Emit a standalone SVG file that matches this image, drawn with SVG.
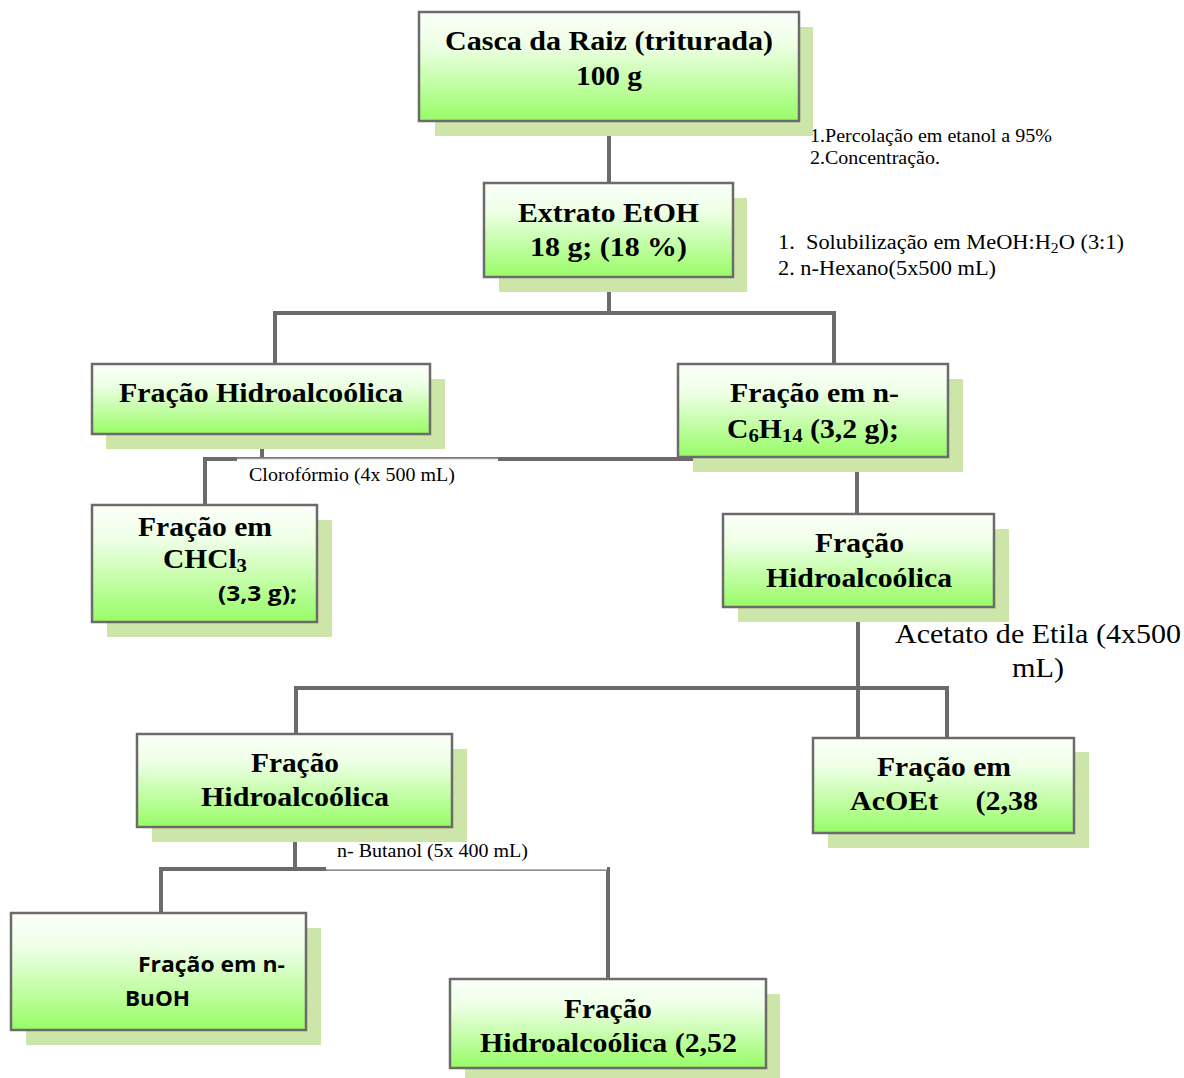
<svg xmlns="http://www.w3.org/2000/svg" width="1184" height="1078" viewBox="0 0 1184 1078">
<defs>
<linearGradient id="g" x1="0" y1="0" x2="0" y2="1">
<stop offset="0" stop-color="#fbfffa"/>
<stop offset="0.3" stop-color="#eeffe6"/>
<stop offset="1" stop-color="#98fc66"/>
</linearGradient>
<style>
.box{fill:url(#g);stroke:#6b6b6b;stroke-width:2.5}
.sh{fill:#cde5a9}
.t{font-family:"Liberation Serif",serif;font-weight:bold;font-size:27px;fill:#000}
.s{font-family:"Open Sans","Liberation Sans",sans-serif;font-weight:bold;font-size:22px;fill:#000}
.a{font-family:"Liberation Serif",serif;fill:#000}
.c{stroke:#6b6b6b;stroke-width:4;fill:none}
.thin{stroke:#9a9a9a;stroke-width:1.5;fill:none}
</style>
</defs>
<rect width="1184" height="1078" fill="#fff"/>
<g id="connectors">
<path class="c" d="M609 121V183"/>
<path class="c" d="M609 277V313M275 364V313H834V364"/>
<path class="c" d="M262 434V459M205 505V459H857V514"/>
<path class="c" d="M858 607V738M296 734V688H947V738"/>
<path class="c" d="M295 827V869M161 913V869H608V979"/>
</g>
<g id="label-cloroformio">
<rect x="237" y="458" width="261" height="47" fill="#fff"/>
<path class="thin" d="M237 458.5H498"/>
<text class="a" x="249" y="481" font-size="18" textLength="206" lengthAdjust="spacingAndGlyphs">Clorofórmio (4x 500 mL)</text>
</g>
<g id="label-butanol">
<rect x="326" y="835" width="281" height="35" fill="#fff"/>
<path class="thin" d="M326 870H607"/>
<text class="a" x="337" y="857" font-size="18" textLength="191" lengthAdjust="spacingAndGlyphs">n- Butanol (5x 400 mL)</text>
</g>
<g id="label-percolacao">
<text class="a" x="810" y="142" font-size="18" textLength="242" lengthAdjust="spacingAndGlyphs">1.Percolação em etanol a 95%</text>
<text class="a" x="810" y="164" font-size="18" textLength="130" lengthAdjust="spacingAndGlyphs">2.Concentração.</text>
</g>
<g id="label-solubilizacao">
<text class="a" x="778" y="249" font-size="20" xml:space="preserve" textLength="346" lengthAdjust="spacingAndGlyphs">1.  Solubilização em MeOH:H<tspan font-size="14" dy="4">2</tspan><tspan dy="-4">O (3:1)</tspan></text>
<text class="a" x="778" y="275" font-size="20" textLength="218" lengthAdjust="spacingAndGlyphs">2. n-Hexano(5x500 mL)</text>
</g>
<g id="label-acetato">
<text class="a" x="895" y="643" font-size="27" textLength="286" lengthAdjust="spacingAndGlyphs">Acetato de Etila (4x500</text>
<text class="a" x="1012" y="677" font-size="27" textLength="52" lengthAdjust="spacingAndGlyphs">mL)</text>
</g>
<g id="n-casca">
<rect class="sh" x="435" y="27" width="378" height="109"/>
<rect class="box" x="419" y="12" width="380" height="109"/>
<text class="t" x="445" y="50" textLength="328" lengthAdjust="spacingAndGlyphs">Casca da Raiz (triturada)</text>
<text class="t" x="576" y="85" textLength="66" lengthAdjust="spacingAndGlyphs">100 g</text>
</g>
<g id="n-extrato">
<rect class="sh" x="499" y="198" width="248" height="94"/>
<rect class="box" x="484" y="183" width="249" height="94"/>
<text class="t" x="518" y="222" textLength="181" lengthAdjust="spacingAndGlyphs">Extrato EtOH</text>
<text class="t" x="530" y="256" textLength="157" lengthAdjust="spacingAndGlyphs">18 g; (18 %)</text>
</g>
<g id="n-hidro1">
<rect class="sh" x="106" y="379" width="339" height="70"/>
<rect class="box" x="92" y="364" width="338" height="70"/>
<text class="t" x="119" y="402" textLength="284" lengthAdjust="spacingAndGlyphs">Fração Hidroalcoólica</text>
</g>
<g id="n-hexano">
<rect class="sh" x="693" y="379" width="270" height="93"/>
<rect class="box" x="678" y="364" width="270" height="93"/>
<text class="t" x="730" y="402" textLength="169" lengthAdjust="spacingAndGlyphs">Fração em n-</text>
<text class="t" x="727" y="438" textLength="172" lengthAdjust="spacingAndGlyphs">C<tspan font-size="19" dy="4">6</tspan><tspan dy="-4">H</tspan><tspan font-size="19" dy="4">14</tspan><tspan dy="-4"> (3,2 g);</tspan></text>
</g>
<g id="n-chcl3">
<rect class="sh" x="107" y="520" width="225" height="117"/>
<rect class="box" x="92" y="505" width="225" height="117"/>
<text class="t" x="138" y="536" textLength="134" lengthAdjust="spacingAndGlyphs">Fração em</text>
<text class="t" x="163" y="568" textLength="84" lengthAdjust="spacingAndGlyphs">CHCl<tspan font-size="19" dy="4">3</tspan></text>
<text class="s" x="218" y="601" textLength="79" lengthAdjust="spacingAndGlyphs">(3,3 g);</text>
</g>
<g id="n-hidro2">
<rect class="sh" x="738" y="529" width="271" height="93"/>
<rect class="box" x="723" y="514" width="271" height="93"/>
<text class="t" x="815" y="552" textLength="89" lengthAdjust="spacingAndGlyphs">Fração</text>
<text class="t" x="766" y="587" textLength="186" lengthAdjust="spacingAndGlyphs">Hidroalcoólica</text>
</g>
<g id="n-hidro3">
<rect class="sh" x="152" y="749" width="315" height="93"/>
<rect class="box" x="137" y="734" width="315" height="93"/>
<text class="t" x="251" y="772" textLength="88" lengthAdjust="spacingAndGlyphs">Fração</text>
<text class="t" x="201" y="806" textLength="188" lengthAdjust="spacingAndGlyphs">Hidroalcoólica</text>
</g>
<g id="n-acoet">
<rect class="sh" x="828" y="752" width="261" height="96"/>
<rect class="box" x="813" y="738" width="261" height="95"/>
<text class="t" x="877" y="776" textLength="134" lengthAdjust="spacingAndGlyphs">Fração em</text>
<text class="t" x="850" y="810" xml:space="preserve" textLength="188" lengthAdjust="spacingAndGlyphs">AcOEt     (2,38</text>
</g>
<g id="n-buoh">
<rect class="sh" x="26" y="928" width="295" height="117"/>
<rect class="box" x="11" y="913" width="295" height="117"/>
<text class="s" x="138" y="972" textLength="147" lengthAdjust="spacingAndGlyphs">Fração em n-</text>
<text class="s" x="125" y="1006" textLength="65" lengthAdjust="spacingAndGlyphs">BuOH</text>
</g>
<g id="n-hidro4">
<rect class="sh" x="465" y="994" width="315" height="84"/>
<rect class="box" x="450" y="979" width="316" height="89"/>
<text class="t" x="564" y="1018" textLength="88" lengthAdjust="spacingAndGlyphs">Fração</text>
<text class="t" x="480" y="1052" textLength="257" lengthAdjust="spacingAndGlyphs">Hidroalcoólica (2,52</text>
</g>
</svg>
